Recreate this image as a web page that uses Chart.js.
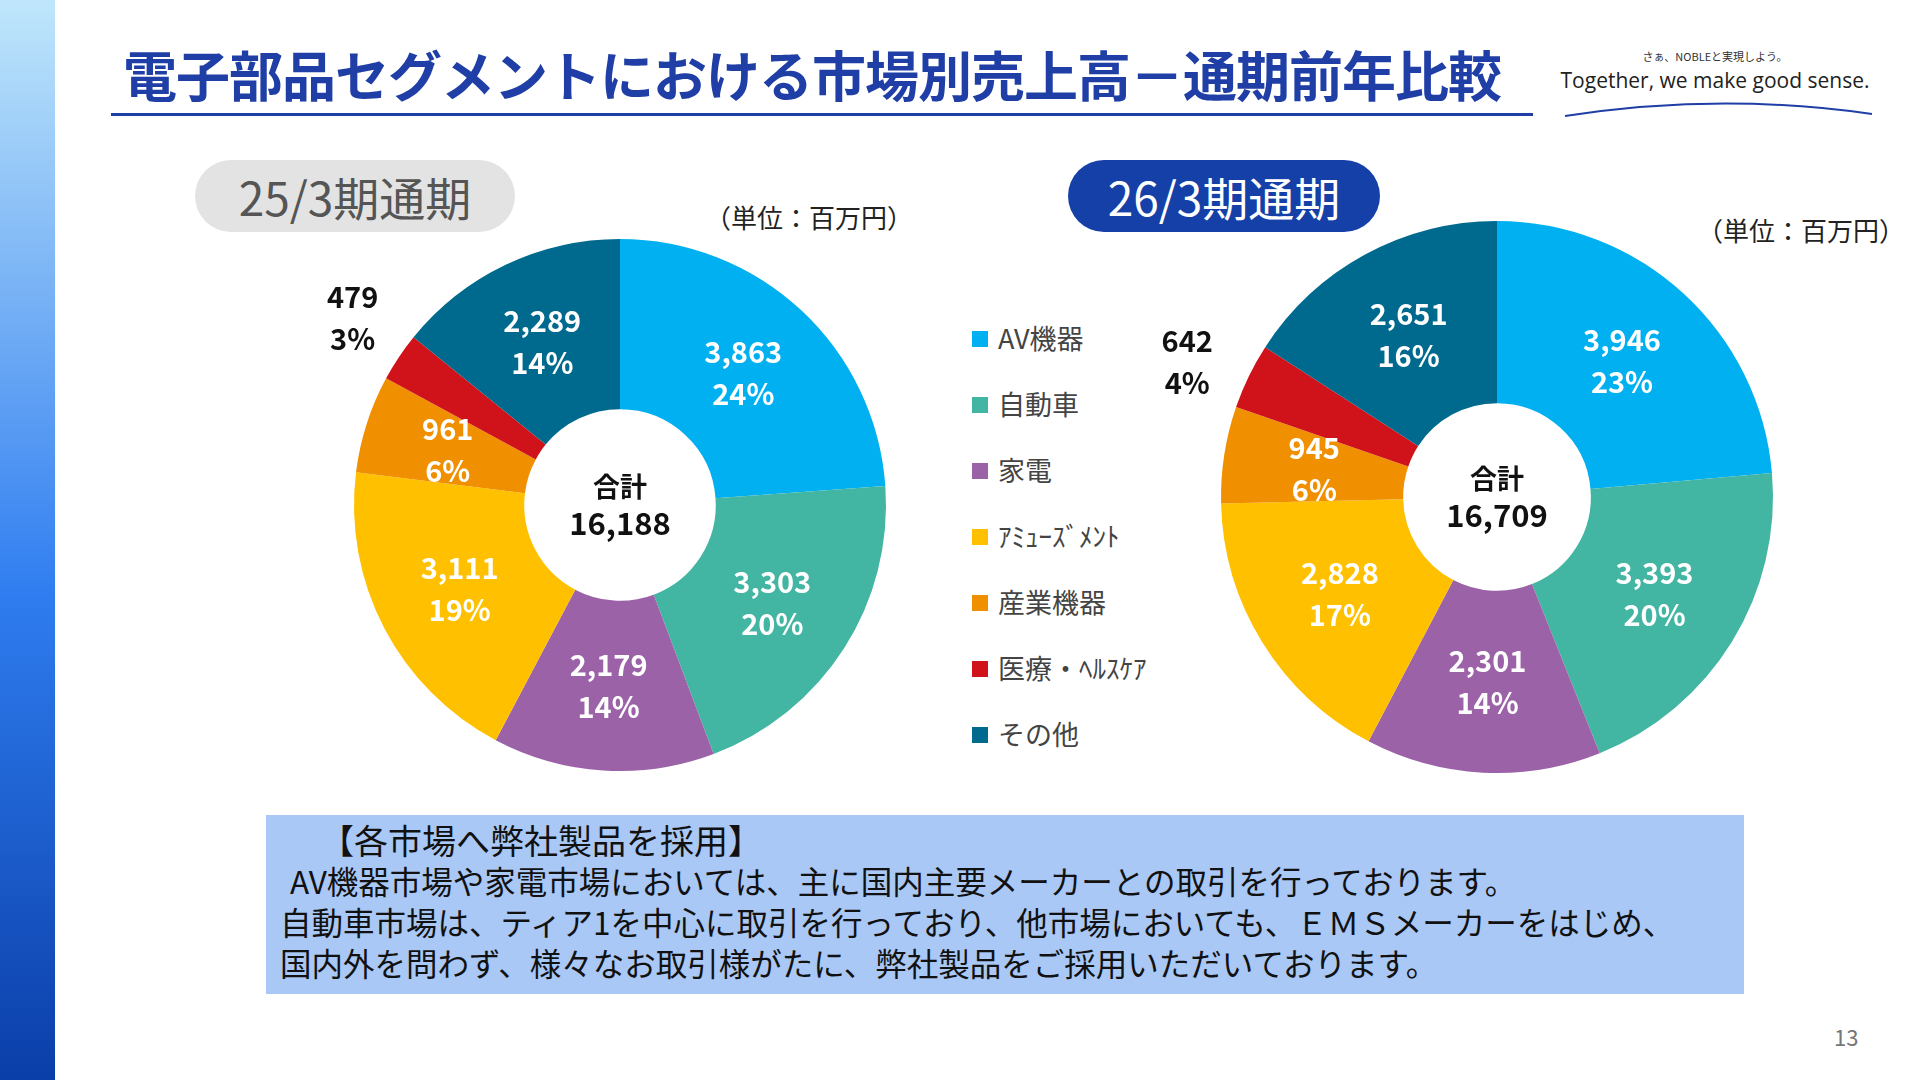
<!DOCTYPE html>
<html><head><meta charset="utf-8">
<script src="https://cdn.jsdelivr.net/npm/chart.js@4"></script>
<style>
body{margin:0;width:1920px;height:1080px;background:#fff;position:relative;overflow:hidden;font-family:"Noto Sans CJK JP","Noto Sans",sans-serif}
.abs{position:absolute}
#side{left:0;top:0;width:55px;height:1080px;background:linear-gradient(#bfe6fb,#2f7df0 55%,#0a3ea8)}
#title{left:123px;top:34px;font-size:54px;font-weight:bold;color:#1f3ea6;letter-spacing:-1px;white-space:nowrap}
#rule{left:111px;top:113px;width:1422px;height:3px;background:#1f3ea6}
.pill{height:72px;border-radius:36px;font-size:46px;text-align:center;line-height:72px}
.unit{font-size:26px;color:#222}
.leg{left:972px;font-size:27px;color:#444;white-space:nowrap}
.leg span{display:inline-block;width:16px;height:16px;margin-right:10px;vertical-align:2px}
#box{left:266px;top:815px;width:1478px;height:179px;background:#aac8f6;font-size:31.5px;color:#111;line-height:41px;white-space:nowrap}
</style></head><body>
<div id="side" class="abs"></div>
<div id="title" class="abs">電子部品セグメントにおける市場別売上高－通期前年比較</div>
<div id="rule" class="abs"></div>
<div class="abs" style="left:1540px;top:48px;width:350px;text-align:center;font-size:11px;color:#333">さぁ、NOBLEと実現しよう。</div>
<div class="abs" style="left:1540px;top:66px;width:350px;text-align:center;font-size:21px;color:#222;font-weight:500;white-space:nowrap;font-family:'Open Sans'">Together, we make good sense.</div>
<svg class="abs" style="left:1560px;top:96px" width="320" height="24"><path d="M5 20 Q160 -4 312 18" stroke="#1f3ea6" stroke-width="2" fill="none"/></svg>
<div class="abs pill" style="left:195px;top:160px;width:320px;background:#e3e3e3;color:#555">25/3期通期</div>
<div class="abs pill" style="left:1068px;top:160px;width:312px;background:#1540a8;color:#fff">26/3期通期</div>
<div class="abs unit" style="left:705px;top:198px">（単位：百万円）</div>
<div class="abs unit" style="left:1697px;top:211px">（単位：百万円）</div>
<div id="legend"></div>
<canvas id="c1" class="abs" style="left:270px;top:155px"></canvas>
<canvas id="c2" class="abs" style="left:1137px;top:137px"></canvas>
<div id="box" class="abs"><div style="padding:4px 0 0 54px;font-size:34px">【各市場へ弊社製品を採用】</div>
<div style="padding-left:24px">AV機器市場や家電市場においては、主に国内主要メーカーとの取引を行っております。</div>
<div style="padding-left:14px">自動車市場は、ティア1を中心に取引を行っており、他市場においても、ＥＭＳメーカーをはじめ、</div>
<div style="padding-left:14px">国内外を問わず、様々なお取引様がたに、弊社製品をご採用いただいております。</div></div>
<div class="abs" style="left:1834px;top:1020px;font-size:22px;color:#777">13</div>
<script>
const categories = ["AV機器", "自動車", "家電", "ｱﾐｭｰｽﾞﾒﾝﾄ", "産業機器", "医療・ﾍﾙｽｹｱ", "その他"];
const colors = ["#00b0f0", "#43b5a3", "#9b62a8", "#ffc000", "#f09000", "#d0131a", "#006a8e"];
const values2503 = [3863, 3303, 2179, 3111, 961, 479, 2289];
const pct2503 = [24, 20, 14, 19, 6, 3, 14];
const total2503 = "16,188";
const values2603 = [3946, 3393, 2301, 2828, 945, 642, 2651];
const pct2603 = [23, 20, 14, 17, 6, 4, 16];
const total2603 = "16,709";

// legend
const legend = document.getElementById("legend");
categories.forEach((c, i) => {
    const d = document.createElement("div");
    d.className = "abs leg";
    d.style.top = (318 + i * 66) + "px";
    d.innerHTML = `<span style="background:${colors[i]}"></span>${c}`;
    legend.appendChild(d);
});

const labelPlugin = {
    id: "sliceLabels",
    afterDraw(chart) {
        const ctx = chart.ctx;
        const meta = chart.getDatasetMeta(0);
        const opt = chart.options.plugins.sliceLabels;
        ctx.save();
        ctx.textAlign = "center";
        ctx.textBaseline = "middle";
        meta.data.forEach((arc, i) => {
            const a = (arc.startAngle + arc.endAngle) / 2;
            const small = i === 5;
            const r = small ? arc.outerRadius * 1.2 : (arc.innerRadius + arc.outerRadius) / 2;
            let x = arc.x + Math.cos(a) * r, y = arc.y + Math.sin(a) * r;
            if (small) { x += opt.dx; y += opt.dy; }
            ctx.fillStyle = small ? "#111" : "#fff";
            ctx.font = "bold 29px 'Noto Sans CJK JP'";
            ctx.fillText(chart.data.datasets[0].data[i].toLocaleString("en-US"), x, y - 21);
            ctx.fillText(opt.pct[i] + "%", x, y + 21);
        });
        ctx.fillStyle = "#111";
        ctx.font = "bold 27px 'Noto Sans CJK JP'";
        ctx.fillText("合計", meta.data[0].x, meta.data[0].y - 18);
        ctx.font = "bold 31px 'Noto Sans CJK JP'";
        ctx.fillText(opt.total, meta.data[0].x, meta.data[0].y + 18);
        ctx.restore();
    }
};

function makePie(id, size, data, pct, total, cut, dx, dy) {
    const cv = document.getElementById(id);
    cv.style.width = size + "px";
    cv.style.height = size + "px";
    new Chart(cv, {
        type: "doughnut",
        data: { labels: categories, datasets: [{ data, backgroundColor: colors, borderWidth: 0 }] },
        options: {
            responsive: false, animation: false, cutout: cut,
            layout: { padding: 84 },
            plugins: { legend: { display: false }, tooltip: { enabled: false }, sliceLabels: { pct, total, dx, dy } }
        },
        plugins: [labelPlugin]
    });
}
makePie("c1", 700, values2503, pct2503, total2503, "36%", -2, -10);
makePie("c2", 720, values2603, pct2603, total2603, "34%", -12, 10);
</script>
</body></html>
